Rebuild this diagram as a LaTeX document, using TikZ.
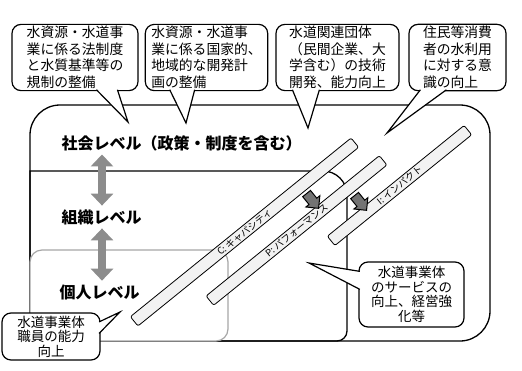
\documentclass[tikz,border=0pt]{standalone}
\usepackage{fontspec}
\setmainfont{Noto Sans CJK JP}
\usetikzlibrary{arrows.meta, shapes.arrows, positioning}

\begin{document}
\begin{tikzpicture}[x=1pt,y=-1pt,thick,
	bubble/.style={
		draw, % speech bubbles
		fill=white,
		line width=1.2pt,
		rounded corners=9pt,
		inner xsep=6pt,
		inner ysep=2pt,
		align=left,
		font=\fontsize{13.8}{16.5}\selectfont,
	},
	lowbubble/.style={bubble, align=center, font=\fontsize{13.5}{14.5}\selectfont},
	pointer/.style={draw, fill=white, line width=1.2pt},
	level/.style={anchor=west, font=\fontsize{16}{18}\selectfont\bfseries},
	updown/.style={
		{Triangle[width=22pt,length=12pt]}-{Triangle[width=22pt,length=12pt]},
		line width=8pt, draw=black!45},
	bar/.style={
		draw, fill=black!5, line width=0.8pt,
		rounded corners=2pt,
		minimum height=12pt, inner sep=0pt,
		rotate=39, font=\fontsize{9.5}{9.5}\selectfont},
	push/.style={
		single arrow, draw, fill=black!55, line width=1pt,
		minimum height=19pt, inner sep=4.5pt,
		single arrow head extend=4pt, rotate=-51},
]
	\useasboundingbox (0,0) rectangle (522,370);

	% society / organisation / individual levels
	\draw[line width=1.3pt, rounded corners=30pt] (30,341) rectangle (490,105);
	\draw[line width=1.3pt] (30,341) -- (30,171)
		[rounded corners=24pt] -- (347,171)
		[rounded corners=10pt] -- (347,341)
		[rounded corners=15pt] -- (30,341) [sharp corners] -- cycle;
	\draw[draw=black!35, fill=white, line width=1.2pt, rounded corners=12pt]
		(30,250) rectangle (228,341);

	\node[level] (soc) at (58,143) {社会レベル（政策・制度を含む）};
	\node[level] (org) at (58,217) {組織レベル};
	\node[level] (ind) at (56,292) {個人レベル};
	\coordinate (ax) at (102,0);
	\draw[updown] (soc.south -| ax) -- (org.north -| ax);
	\draw[updown] (org.south -| ax) -- (ind.north -| ax);

	% C, P, I bars
	\foreach \nm/\cx/\cy/\len/\txt in {
		cap/244.5/232/284/{C: キャパシティ},
		perf/296.5/230.5/223/{P: パフォーマンス},
		imp/399.5/185.5/176/{I: インパクト}}{
		\node[bar, minimum width=\len pt] (\nm) at (\cx,\cy) {\txt};
	}
	\node[push] (pcap) at (311,199) {};
	\node[push] (pperf) at (359,201) {};

	% callouts
	\node[bubble, minimum width=126pt, minimum height=65pt] (b1) at (75,57.5)
		{水資源・水道事\\業に係る法制度\\と水質基準等の\\規制の整備};
	\node[bubble, minimum width=119pt, minimum height=65pt] (b2) at (206.5,57.5)
		{水資源・水道事\\業に係る国家的、\\地域的な開発計\\画の整備};
	\node[bubble, minimum width=123pt, minimum height=65pt] (b3) at (337.5,57.5)
		{水道関連団体\\（民間企業、大\\学含む）の技術\\開発、能力向上};
	\node[bubble, minimum width=97pt, minimum height=65pt] (b4) at (457.5,57.5)
		{住民等消費\\者の水利用\\に対する意\\識の向上};
	\node[lowbubble, minimum width=105pt, minimum height=65pt] (b5) at (411.5,294.5)
		{水道事業体\\のサービスの\\向上、経営強\\化等};
	\node[lowbubble, minimum width=98pt, minimum height=47pt] (b6) at (51,336.5)
		{水道事業体\\職員の能力\\向上};

	\coordinate (t1) at (128,122);
	\coordinate (t2) at (186,123);
	\coordinate (t3) at (308,128);
	\coordinate (t4) at (387,133);
	\coordinate (t5) at (309,263);
	\coordinate (t6) at (120,312);
	\draw[pointer] ([xshift=85pt,yshift=1.5pt]b1.south west) -- (t1)
		-- ([xshift=106pt,yshift=1.5pt]b1.south west);
	\draw[pointer] ([xshift=25pt,yshift=1.5pt]b2.south west) -- (t2)
		-- ([xshift=50pt,yshift=1.5pt]b2.south west);
	\draw[pointer] ([xshift=17pt,yshift=1.5pt]b3.south west) -- (t3)
		-- ([xshift=44pt,yshift=1.5pt]b3.south west);
	\draw[pointer] ([xshift=12pt,yshift=1.5pt]b4.south west) -- (t4)
		-- ([xshift=38pt,yshift=1.5pt]b4.south west);
	\draw[pointer] ([xshift=1.5pt,yshift=-10pt]b5.north west) -- (t5)
		-- ([xshift=1.5pt,yshift=-28pt]b5.north west);
	\draw[pointer] ([xshift=-1.5pt,yshift=-9.5pt]b6.north east) -- (t6)
		-- ([xshift=-1.5pt,yshift=-21pt]b6.north east);

\end{tikzpicture}
\end{document}
